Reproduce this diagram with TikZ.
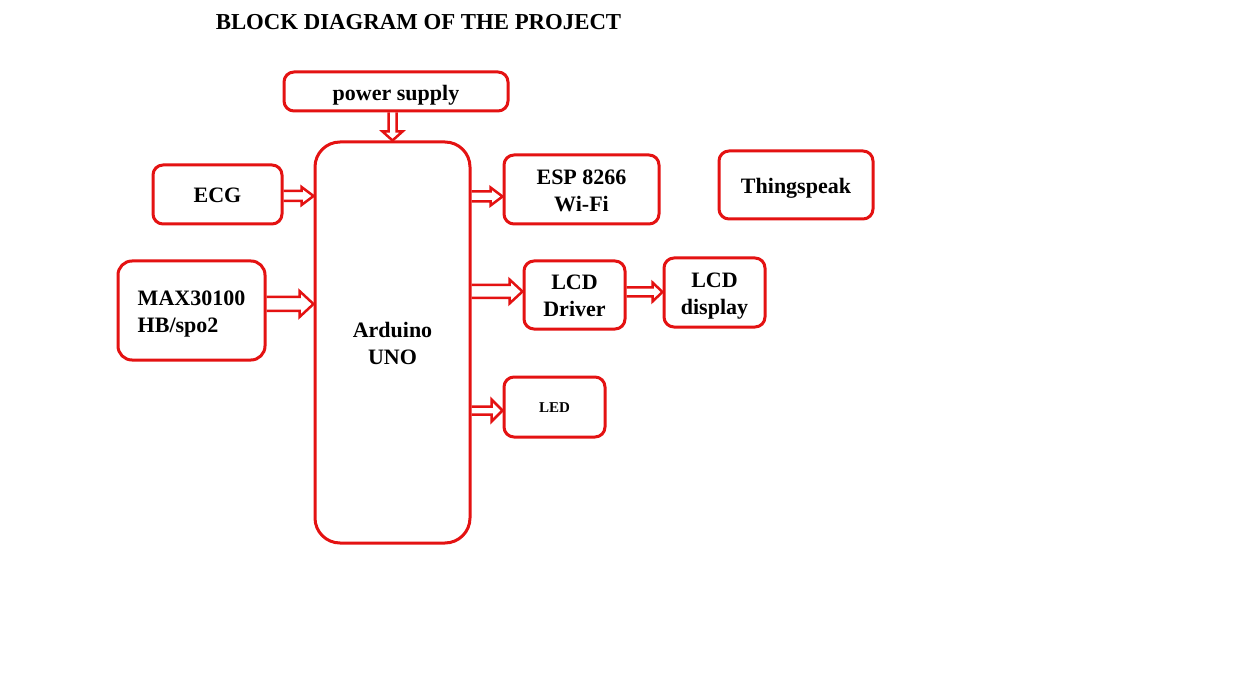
\documentclass[tikz,border=0pt]{standalone}
\usepackage{fontspec}
\setmainfont{Liberation Serif}
\usetikzlibrary{calc}
\definecolor{bred}{RGB}{228,18,18}
\tikzset{
  blk/.style={draw=bred, line width=3pt, rounded corners=10pt, inner sep=0pt},
  lbl/.style={font=\bfseries\fontsize{22}{27}\selectfont, align=center, text=black, inner sep=0pt},
  arr/.style={draw=bred, line width=2.5pt, line join=miter},
}
% horizontal hollow block arrow: #1 start (x), #2 end (x), #3 point giving y, #4 shaft half width, #5 head half width, #6 head length
\newcommand{\rarrow}[6]{%
  \draw[arr] let \p1=#1, \p2=#2, \p3=#3 in
    (\x1,\y3+#4pt) -- (\x2-#6pt,\y3+#4pt) -- (\x2-#6pt,\y3+#5pt) -- (\x2,\y3)
    -- (\x2-#6pt,\y3-#5pt) -- (\x2-#6pt,\y3-#4pt) -- (\x1,\y3-#4pt);}
\begin{document}
\begin{tikzpicture}[x=1pt,y=-1pt]
\useasboundingbox[fill=white] (0,0) rectangle (1241,692);
\node[font=\bfseries\fontsize{22.8}{27}\selectfont] (title) at (418.5,22) {BLOCK DIAGRAM OF THE PROJECT};
\node[blk, minimum width=224pt, minimum height=39pt,
  label={[lbl,yshift=-3.5pt]center:power supply}] (ps) at (396,91.5) {};
\node[blk, rounded corners=25pt, minimum width=155pt, minimum height=401pt,
  label={[lbl,yshift=-1pt]center:{Arduino\\UNO}}] (ard) at (392.5,342.5) {};
\node[blk, minimum width=129pt, minimum height=59pt,
  label={[lbl,yshift=-1pt]center:ECG}] (ecg) at (217.5,194.5) {};
\node[blk, rounded corners=14pt, minimum width=147pt, minimum height=99pt,
  label={[lbl,align=left,yshift=-3.5pt]center:{MAX30100\\HB/spo2}}] (max) at (191.5,310.5) {};
\node[blk, minimum width=155pt, minimum height=69pt,
  label={[lbl,yshift=-1.5pt]center:{ESP 8266\\Wi-Fi}}] (esp) at (581.5,189.5) {};
\node[blk, minimum width=154pt, minimum height=68pt,
  label={[lbl,yshift=-3pt]center:Thingspeak}] (ts) at (796,185) {};
\node[blk, minimum width=101pt, minimum height=68pt,
  label={[lbl,yshift=-0.5pt]center:{LCD\\Driver}}] (drv) at (574.5,295) {};
\node[blk, minimum width=101pt, minimum height=69pt,
  label={[lbl,yshift=-4pt]center:{LCD\\display}}] (disp) at (714.5,292.5) {};
\node[blk, minimum width=101pt, minimum height=60pt,
  label={[lbl,font=\bfseries\fontsize{15}{18}\selectfont,yshift=-0.5pt]center:LED}] (led) at (554.5,407) {};
% arrows
\rarrow{(ecg.east)}{(ard.west)}{($(ecg.east)+(0,1.5)$)}{5}{9}{12}
\rarrow{(max.east)}{(ard.west)}{($(max.east)+(0,-6.5)$)}{7}{13}{14}
\rarrow{(ard.east)}{(esp.west)}{($(esp.west)+(0,7)$)}{5}{9}{12}
\rarrow{(ard.east)}{(drv.west)}{($(drv.west)+(0,-3.5)$)}{6.5}{12}{13}
\rarrow{(drv.east)}{(disp.west)}{($(drv.east)+(0,-3)$)}{4.5}{9.5}{10}
\rarrow{(ard.east)}{(led.west)}{($(led.west)+(0,3.5)$)}{4}{11}{11}
% vertical arrow power supply -> Arduino
\draw[arr] let \p1=(ps.south), \p2=(ard.north) in
  (\x2-4pt,\y1) -- (\x2-4pt,\y2+9pt) -- (\x2-10pt,\y2+9pt) -- (\x2,\y2)
  -- (\x2+10pt,\y2+9pt) -- (\x2+4pt,\y2+9pt) -- (\x2+4pt,\y1);
\end{tikzpicture}
\end{document}
